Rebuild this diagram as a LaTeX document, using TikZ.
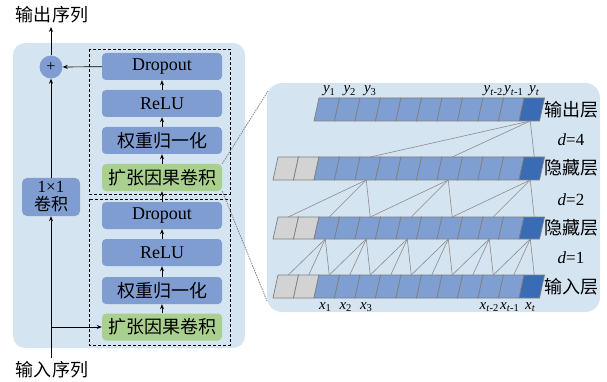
\documentclass[tikz,border=0pt]{standalone}
\usepackage{fontspec}
\setmainfont{Liberation Serif}
\newfontfamily\cjk{Noto Sans CJK SC}
\usetikzlibrary{arrows.meta}
\definecolor{bgblue}{HTML}{D5E4F1}
\definecolor{boxblue}{HTML}{7F9DD1}
\definecolor{boxgreen}{HTML}{A9D08E}
\definecolor{cellmid}{HTML}{7F9FD2}
\definecolor{celldark}{HTML}{3A6BB5}
\definecolor{cellgray}{HTML}{D3D3D3}
\definecolor{edgegray}{HTML}{7F7F7F}
\definecolor{linkgray}{HTML}{8C8C8C}
\newcommand\setfs[1]{\fontsize{#1}{#1}\selectfont}
\begin{document}
\begin{tikzpicture}[x=1pt,y=-1pt,
  box/.style={fill=boxblue, rounded corners=4pt, minimum width=120pt, minimum height=27pt, inner sep=0pt, font=\setfs{18}},
  gbox/.style={box, fill=boxgreen},
  arr/.style={-{Stealth[length=5pt,width=4pt]}, line width=0.7pt},
  dbox/.style={draw=black, line width=0.8pt, dash pattern=on 3pt off 2pt},
  zoomline/.style={draw=gray, line width=0.8pt, dash pattern=on 1.5pt off 1pt},
  link/.style={draw=linkgray, line width=0.6pt},
  lbl/.style={font=\setfs{18}\cjk, inner sep=0pt},
  sub/.style={font=\setfs{15}, inner sep=0pt, anchor=base}]
\useasboundingbox (0,0) rectangle (607,382);

% ---------- left panel ----------
\fill[bgblue, rounded corners=12pt] (13,43) rectangle (245,348);
\draw[dbox] (89,49) rectangle (230,194);
\draw[dbox] (89,199) rectangle (230,345);

\node[box] (dp1) at (162,66.5) {Dropout};
\node[box] (re1) at (162,103.5) {ReLU};
\node[box, font=\setfs{18}\cjk] (wn1) at (162,140.5) {权重归一化};
\node[gbox, font=\setfs{18}\cjk] (dc1) at (162,177.5) {扩张因果卷积};

\node[box] (dp2) at (162,215.5) {Dropout};
\node[box] (re2) at (162,252.5) {ReLU};
\node[box, font=\setfs{18}\cjk] (wn2) at (162,290.5) {权重归一化};
\node[gbox, font=\setfs{18}\cjk] (dc2) at (162,327) {扩张因果卷积};

\node[fill=boxblue, rounded corners=5pt, minimum width=58pt, minimum height=38pt, inner sep=0pt, align=center, font=\fontsize{17}{18}\selectfont] (cv) at (51,197) {1×1\\{\cjk 卷积}};
\node[circle, fill=boxblue, minimum size=23pt, inner sep=0pt, font=\setfs{16}] (pl) at (51,67) {+};

\node[lbl] (outseq) at (52,15) {输出序列};
\node[lbl] (inseq) at (52,370) {输入序列};
\coordinate (outend) at (51,27);
\coordinate (instart) at (51,358);
\coordinate (branch) at (51,327);

\draw[arr] (dc2) -- (wn2);
\draw[arr] (wn2) -- (re2);
\draw[arr] (re2) -- (dp2);
\draw[arr] (dp2) -- (dc1);
\draw[arr] (dc1) -- (wn1);
\draw[arr] (wn1) -- (re1);
\draw[arr] (re1) -- (dp1);
\draw[arr] (dp1) -- (pl);
\draw[arr] (cv) -- (pl);
\draw[arr] (pl) -- (outend);
\draw[arr] (instart) -- (cv);
\draw[arr] (branch) -- (dc2);

% ---------- right panel ----------
\fill[bgblue, rounded corners=15pt] (267,83) rectangle (600,312);
\coordinate (zA) at (268,91);
\coordinate (zB) at (267,301);
\draw[zoomline] (dc1.north east) -- (zA);
\draw[zoomline] (dc1.south east) -- (zB);

\foreach \L/\T/\B/\s in {out/98/121/2, hA/157/180/0, hB/217/239/0, in/275/298/0} {
  \foreach \k in {\s,...,12} {
    \ifnum\k<2 \def\cc{cellgray}\else\ifnum\k=12 \def\cc{celldark}\else\def\cc{cellmid}\fi\fi
    \filldraw[fill=\cc, draw=edgegray, line width=0.7pt]
      ({273+20.5*\k},\B) -- ({293.5+20.5*\k},\B) -- ({298.5+20.5*\k},\T) -- ({278+20.5*\k},\T) -- cycle;
    \coordinate (\L-t\k) at ({278+20.5*(\k+0.5)},\T);
    \coordinate (\L-b\k) at ({274+20.5*(\k+0.5)},\B);
  }
}

% d=1 links
\foreach \a in {2,4,...,12} {
  \pgfmathtruncatemacro\ia{\a-1}
  \pgfmathtruncatemacro\ib{\a-2}
  \draw[link] (hB-b\a) -- (in-t\a);
  \draw[link] (hB-b\a) -- (in-t\ia);
  \draw[link] (hB-b\a) -- (in-t\ib);
}
% d=2 links
\foreach \a in {4,8,12} {
  \pgfmathtruncatemacro\ia{\a-2}
  \pgfmathtruncatemacro\ib{\a-4}
  \draw[link] (hA-b\a) -- (hB-t\a);
  \draw[link] (hA-b\a) -- (hB-t\ia);
  \draw[link] (hA-b\a) -- (hB-t\ib);
}
% d=4 links
\draw[link] (out-b12) -- (hA-t12);
\draw[link] (out-b12) -- (hA-t8);
\draw[link] (out-b12) -- (hA-t4);

% labels
\node[lbl] (lo) at (571,110) {输出层};
\node[font=\setfs{17}, inner sep=0pt] (d4) at (571,140) {\textit{d}=4};
\node[lbl] (lh1) at (571,168) {隐藏层};
\node[font=\setfs{17}, inner sep=0pt] (d2) at (571,200) {\textit{d}=2};
\node[lbl] (lh2) at (571,228) {隐藏层};
\node[font=\setfs{17}, inner sep=0pt] (d1) at (571,258) {\textit{d}=1};
\node[lbl] (li) at (571,287) {输入层};

\node[sub] (y1) at ([yshift=5pt]out-t2) {\textit{y}\textsubscript{1}};
\node[sub] (y2) at ([yshift=5pt]out-t3) {\textit{y}\textsubscript{2}};
\node[sub] (y3) at ([yshift=5pt]out-t4) {\textit{y}\textsubscript{3}};
\node[sub] (yt2) at ([yshift=5pt]out-t10) {\textit{y}\textsubscript{\textit{t}-2}};
\node[sub] (yt1) at ([yshift=5pt]out-t11) {\textit{y}\textsubscript{\textit{t}-1}};
\node[sub] (yt) at ([yshift=5pt]out-t12) {\textit{y}\textsubscript{\textit{t}}};

\node[sub] (x1) at ([yshift=-11pt]in-b2) {\textit{x}\textsubscript{1}};
\node[sub] (x2) at ([yshift=-11pt]in-b3) {\textit{x}\textsubscript{2}};
\node[sub] (x3) at ([yshift=-11pt]in-b4) {\textit{x}\textsubscript{3}};
\node[sub] (xt2) at ([yshift=-11pt]in-b10) {\textit{x}\textsubscript{\textit{t}-2}};
\node[sub] (xt1) at ([yshift=-11pt]in-b11) {\textit{x}\textsubscript{\textit{t}-1}};
\node[sub] (xt) at ([yshift=-11pt]in-b12) {\textit{x}\textsubscript{\textit{t}}};
\end{tikzpicture}
\end{document}
